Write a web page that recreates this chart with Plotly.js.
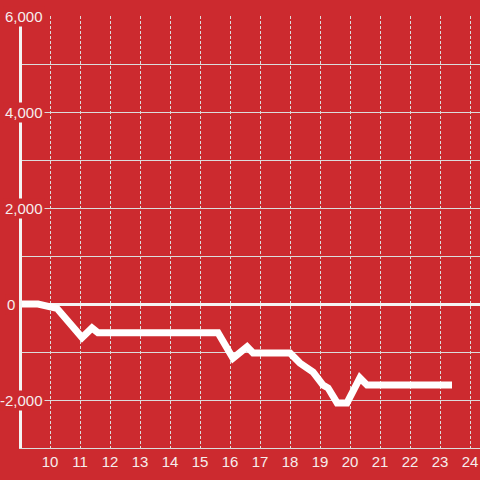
<!DOCTYPE html>
<html>
<head>
<meta charset="utf-8">
<script src="https://cdn.plot.ly/plotly-3.0.1.min.js"></script>
<style>
html,body{margin:0;padding:0;background:#CC2A2F;}
#chart{width:480px;height:480px;}
</style>
</head>
<body>
<div id="chart"></div>
<script>
// Data
const xValues = [9.0, 9.6, 10.23, 11.07, 11.4, 11.6, 15.6, 16.1, 16.57, 16.77, 18.0, 18.33, 18.77, 19.1, 19.27, 19.57, 19.9, 20.33, 20.57, 23.4];
const yValues = [0, 0, -90, -700, -500, -600, -600, -1130, -890, -1020, -1020, -1230, -1420, -1690, -1750, -2060, -2060, -1540, -1690, -1690];
const xTickVals = [10, 11, 12, 13, 14, 15, 16, 17, 18, 19, 20, 21, 22, 23, 24];
const yLabelVals = [6000, 4000, 2000, 0, -2000];
const yLabelText = ["6,000", "4,000", "2,000", "0", "-2,000"];

const BG = "#CC2A2F";
const TXT = "#F6EDED";
const FONT = "Liberation Sans, Arial, sans-serif";
const plotLeft = 22, plotWidth = 480 - 22;
const px = p => (p - plotLeft) / plotWidth;

const labelRight = yLabelVals.map(v => v === 0 ? 17 : 45);

const annotations = yLabelVals.map((v, i) => ({
  xref: "paper", yref: "y",
  x: px(labelRight[i]), y: v,
  xanchor: "right", yanchor: "middle",
  text: yLabelText[i],
  showarrow: false,
  bgcolor: BG,
  borderpad: 1,
  font: {family: FONT, size: 15, color: TXT}
}));

const trace = {
  type: "scatter", mode: "lines",
  x: xValues, y: yValues,
  line: {color: "#FFFFFF", width: 7},
  hoverinfo: "skip"
};

const layout = {
  width: 480, height: 480,
  paper_bgcolor: BG, plot_bgcolor: BG,
  margin: {l: plotLeft, r: 0, t: 16, b: 32},
  showlegend: false,
  font: {family: FONT, size: 15, color: TXT},
  xaxis: {
    range: [9 + 2/30, 24 + 10/30],
    tickvals: xTickVals,
    ticktext: xTickVals.map(String),
    showgrid: true, gridcolor: "#DCDCDC", gridwidth: 1, griddash: "3px,2px",
    showline: true, linecolor: "#DCDCDC", linewidth: 1,
    zeroline: false, ticks: "",
    tickfont: {family: FONT, size: 15, color: TXT}
  },
  yaxis: {
    range: [-3000, 6000],
    dtick: 1000, tick0: 0,
    showticklabels: false,
    showgrid: true, gridcolor: "#DCDCDC", gridwidth: 1,
    showline: true, linecolor: "#F4F4F4", linewidth: 3,
    zeroline: true, zerolinecolor: "#F4F4F4", zerolinewidth: 3,
    ticks: ""
  },
  annotations: annotations
};

Plotly.newPlot("chart", [trace], layout, {displayModeBar: false, staticPlot: true});
</script>
</body>
</html>
